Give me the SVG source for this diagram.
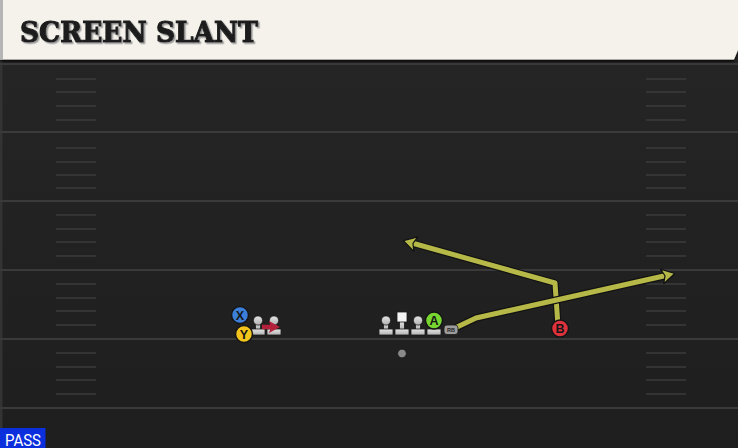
<svg xmlns="http://www.w3.org/2000/svg" xmlns:xlink="http://www.w3.org/1999/xlink" width="738" height="448" viewBox="0 0 738 448">
  <style>
    .yard { stroke: #3a3a3a; stroke-width: 2; }
    .hash { stroke: #3b3b3b; stroke-width: 1.6; }
    .route-under { fill: none; stroke: #121212; stroke-width: 7.5; stroke-linejoin: round; stroke-linecap: round; }
    .route { fill: none; stroke: #b6b848; stroke-width: 5; stroke-linejoin: round; }
    .player { stroke: #151515; stroke-width: 1.5; }
    .letter { font-family: "Liberation Sans", Arial, sans-serif; font-weight: bold; font-size: 12.5px; fill: #151515; text-anchor: middle; }
    .lineman { fill: url(#lgrad); stroke: #1a1a1a; stroke-width: 0.8; }
  </style>
  <defs>
    <linearGradient id="field" x1="0" y1="0" x2="0" y2="1">
      <stop offset="0" stop-color="#262626"/>
      <stop offset="1" stop-color="#1e1e1e"/>
    </linearGradient>
    <linearGradient id="lgrad" x1="0" y1="0" x2="0" y2="1">
      <stop offset="0" stop-color="#e6e6e6"/>
      <stop offset="1" stop-color="#b0b0b0"/>
    </linearGradient>
    <filter id="tshadow" x="-5%" y="-20%" width="110%" height="150%">
      <feDropShadow dx="1.5" dy="1.5" stdDeviation="0.3" flood-color="#9a9a9a" flood-opacity="1"/>
    </filter>
    <filter id="bshadow" x="-2%" y="-10%" width="104%" height="130%">
      <feDropShadow dx="0" dy="2" stdDeviation="1.2" flood-color="#000" flood-opacity="0.8"/>
    </filter>
    <marker id="arrowY" viewBox="-6 -9 17 18" refX="0" refY="0" markerWidth="17" markerHeight="18" markerUnits="userSpaceOnUse" orient="auto">
      <path d="M9,0 L-4,-7.5 L-1,0 L-4,7.5 Z" fill="#b6b848" stroke="#121212" stroke-width="1.2" stroke-linejoin="round"/>
    </marker>
    <marker id="arrowR" viewBox="-6 -8 16 16" refX="0" refY="0" markerWidth="16" markerHeight="16" markerUnits="userSpaceOnUse" orient="auto">
      <path d="M8,0 L-3,-6 L-1,0 L-3,6 Z" fill="#b3203a"/>
    </marker>
    <g id="lineman">
      <rect class="lineman" x="-2.5" y="321" width="5" height="9"/>
      <rect class="lineman" x="-7" y="329" width="14" height="6" rx="0.8"/>
      <circle class="lineman" cx="0" cy="320.5" r="4.6"/>
    </g>
  </defs>

  <!-- field -->
  <rect x="0" y="0" width="738" height="448" fill="url(#field)"/>
  <rect x="0" y="60" width="2.5" height="388" fill="#333"/>
  <g id="yardlines">
    <line class="yard" x1="0" y1="64" x2="738" y2="64"/>
    <line class="yard" x1="0" y1="132" x2="738" y2="132"/>
    <line class="yard" x1="0" y1="201" x2="738" y2="201"/>
    <line class="yard" x1="0" y1="270" x2="738" y2="270"/>
    <line class="yard" x1="0" y1="339" x2="738" y2="339"/>
    <line class="yard" x1="0" y1="408" x2="738" y2="408"/>
  </g>
  <g id="hashes">
    <path class="hash" d="M56,79H96M56,92H96M56,106H96M56,120H96M56,148H96M56,162H96M56,175H96M56,188H96M56,215H96M56,229H96M56,242H96M56,256H96M56,284H96M56,298H96M56,311H96M56,325H96M56,353H96M56,367H96M56,380H96M56,394H96"/>
    <path class="hash" d="M646,79H686M646,92H686M646,106H686M646,120H686M646,148H686M646,162H686M646,175H686M646,188H686M646,215H686M646,229H686M646,242H686M646,256H686M646,284H686M646,298H686M646,311H686M646,325H686M646,353H686M646,367H686M646,380H686M646,394H686"/>
  </g>

  <!-- title banner -->
  <g id="title">
    <path d="M0,0 H738 V50 L734,59.5 H0 Z" fill="#f5f2eb" filter="url(#bshadow)"/>
    <rect x="0" y="0" width="3" height="59.5" fill="#b5b5b5"/>
    <text x="20" y="42" font-family="DejaVu Serif, Liberation Serif, serif" font-weight="bold" font-size="27" fill="#1b1b1b" stroke="#1b1b1b" stroke-width="1.1" textLength="238" lengthAdjust="spacingAndGlyphs" filter="url(#tshadow)">SCREEN SLANT</text>
  </g>

  <!-- left formation -->
  <g id="lineman-l1"><use xlink:href="#lineman" href="#lineman" x="258" y="0"/></g>
  <g id="lineman-l2"><use xlink:href="#lineman" href="#lineman" x="274" y="0"/></g>

  <!-- offensive line -->
  <g id="lineman-1"><use xlink:href="#lineman" href="#lineman" x="386" y="0"/></g>
  <g id="center">
    <rect class="lineman" x="399.5" y="321" width="5" height="9"/>
    <rect class="lineman" x="395" y="329" width="14" height="6" rx="0.8"/>
    <rect x="397" y="312" width="10" height="10" fill="#f4f4f4" stroke="#1a1a1a" stroke-width="0.8"/>
  </g>
  <g id="lineman-3"><use xlink:href="#lineman" href="#lineman" x="418" y="0"/></g>
  <g id="lineman-4"><use xlink:href="#lineman" href="#lineman" x="434" y="0"/></g>

  <!-- connectors -->
  <g id="connectors">
    <polyline class="route-under" points="558,326 555,283 412,243"/>
    <polyline class="route" points="558,326 555,283 412,243" marker-end="url(#arrowY)"/>
    <polyline class="route-under" points="455,328 476,318 666,275.5"/>
    <polyline class="route" points="455,328 476,318 666,275.5" marker-end="url(#arrowY)"/>
    <line x1="262" y1="327" x2="272" y2="327" stroke="#b3203a" stroke-width="4.5" marker-end="url(#arrowR)"/>
  </g>

  <g id="player-x">
    <circle class="player" cx="240" cy="315" r="8.5" fill="#3b7fd9"/>
    <text class="letter" x="240" y="319.5">X</text>
  </g>
  <g id="player-y">
    <circle class="player" cx="244" cy="334" r="8.5" fill="#f2c41c"/>
    <text class="letter" x="244" y="338.5">Y</text>
  </g>
  <g id="player-a">
    <circle class="player" cx="434" cy="320.5" r="8.5" fill="#78d630"/>
    <text class="letter" x="434" y="325">A</text>
  </g>
  <g id="rb">
    <rect x="444" y="325" width="14" height="9.5" rx="3" fill="#9c9c9c" stroke="#1a1a1a" stroke-width="0.8"/>
    <text x="451" y="332" font-family="Liberation Sans, Arial, sans-serif" font-weight="bold" font-size="5.5" fill="#222" text-anchor="middle">RB</text>
  </g>
  <g id="qb">
    <circle cx="402" cy="353.5" r="4.3" fill="#8a8a8a" stroke="#1a1a1a" stroke-width="0.8"/>
  </g>
  <g id="player-b">
    <circle class="player" cx="560" cy="328.5" r="8.5" fill="#e0323c"/>
    <text class="letter" x="560" y="333">B</text>
  </g>

  <!-- pass label -->
  <g id="pass-label">
    <rect x="0" y="428" width="45.5" height="20" fill="#0b2fdc"/>
    <text x="5" y="445.5" font-family="Roboto, Liberation Sans, sans-serif" font-size="16.5" fill="#ffffff" textLength="36" lengthAdjust="spacingAndGlyphs">PASS</text>
  </g>
</svg>
